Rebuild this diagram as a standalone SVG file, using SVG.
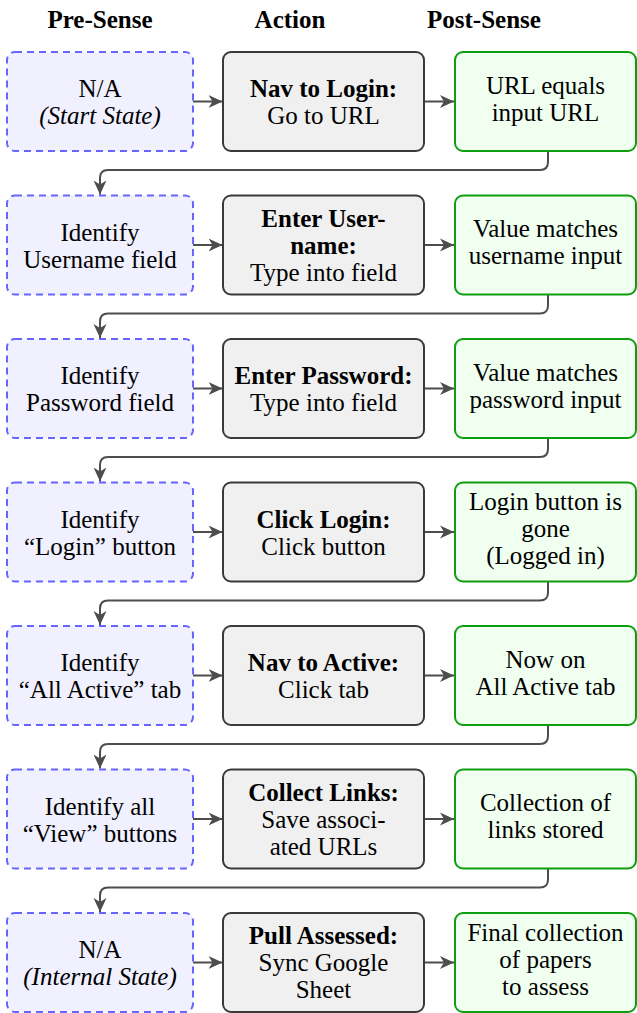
<svg xmlns="http://www.w3.org/2000/svg" width="637" height="1013" viewBox="0 0 637 1013">
<style>
text{font-family:"Liberation Serif","Times New Roman",Times,serif;font-size:25px;fill:#000;text-anchor:middle}
.h{font-weight:bold}
.b{font-weight:bold}
.i{font-style:italic}
.pre{fill:#f0f0ff;stroke:#6666ff;stroke-width:2;stroke-dasharray:7,5}
.act{fill:#f0f0f0;stroke:#3a3a3a;stroke-width:2}
.post{fill:#f0fff0;stroke:#0f9e0f;stroke-width:2}
.c{fill:none;stroke:#4d4d4d;stroke-width:2}
</style>
<defs>
<marker id="ah" markerWidth="16" markerHeight="16" refX="14" refY="8" orient="auto" markerUnits="userSpaceOnUse">
<path d="M0,1.5 L14,8 L0,14.5 L4,8 z" fill="#4d4d4d"/>
</marker>
</defs>
<g id="headers">
<text class="h" x="100" y="28">Pre-Sense</text>
<text class="h" x="290" y="28">Action</text>
<text class="h" x="484" y="28">Post-Sense</text>
</g>
<g id="connectors">
<line class="c" x1="193" y1="101.5" x2="222.5" y2="101.5" marker-end="url(#ah)"/>
<line class="c" x1="424" y1="101.5" x2="454" y2="101.5" marker-end="url(#ah)"/>
<line class="c" x1="193" y1="245" x2="222.5" y2="245" marker-end="url(#ah)"/>
<line class="c" x1="424" y1="245" x2="454" y2="245" marker-end="url(#ah)"/>
<line class="c" x1="193" y1="388.5" x2="222.5" y2="388.5" marker-end="url(#ah)"/>
<line class="c" x1="424" y1="388.5" x2="454" y2="388.5" marker-end="url(#ah)"/>
<line class="c" x1="193" y1="532" x2="222.5" y2="532" marker-end="url(#ah)"/>
<line class="c" x1="424" y1="532" x2="454" y2="532" marker-end="url(#ah)"/>
<line class="c" x1="193" y1="675.5" x2="222.5" y2="675.5" marker-end="url(#ah)"/>
<line class="c" x1="424" y1="675.5" x2="454" y2="675.5" marker-end="url(#ah)"/>
<line class="c" x1="193" y1="819" x2="222.5" y2="819" marker-end="url(#ah)"/>
<line class="c" x1="424" y1="819" x2="454" y2="819" marker-end="url(#ah)"/>
<line class="c" x1="193" y1="962.5" x2="222.5" y2="962.5" marker-end="url(#ah)"/>
<line class="c" x1="424" y1="962.5" x2="454" y2="962.5" marker-end="url(#ah)"/>
<path class="c" d="M548,151 V162 Q548,170 540,170 H108 Q100,170 100,178 V194.5" marker-end="url(#ah)"/>
<path class="c" d="M548,294.5 V305.5 Q548,313.5 540,313.5 H108 Q100,313.5 100,321.5 V338" marker-end="url(#ah)"/>
<path class="c" d="M548,438 V449 Q548,457 540,457 H108 Q100,457 100,465 V481.5" marker-end="url(#ah)"/>
<path class="c" d="M548,581.5 V592.5 Q548,600.5 540,600.5 H108 Q100,600.5 100,608.5 V625" marker-end="url(#ah)"/>
<path class="c" d="M548,725 V736 Q548,744 540,744 H108 Q100,744 100,752 V768.5" marker-end="url(#ah)"/>
<path class="c" d="M548,868.5 V879.5 Q548,887.5 540,887.5 H108 Q100,887.5 100,895.5 V912" marker-end="url(#ah)"/>
</g>
<g id="row1-pre"><rect class="pre" x="7" y="52" width="186" height="99" rx="8"/><text x="100" y="97">N/A</text><text class="i" x="100" y="124">(Start State)</text></g>
<g id="row1-act"><rect class="act" x="223" y="52" width="201" height="99" rx="8"/><text class="b" x="323.5" y="97">Nav to Login:</text><text x="323.5" y="124">Go to URL</text></g>
<g id="row1-post"><rect class="post" x="455" y="52" width="181" height="99" rx="8"/><text x="545.5" y="93.5">URL equals</text><text x="545.5" y="120.5">input URL</text></g>

<g id="row2-pre"><rect class="pre" x="7" y="195.5" width="186" height="99" rx="8"/><text x="100" y="240.5">Identify</text><text x="100" y="267.5">Username field</text></g>
<g id="row2-act"><rect class="act" x="223" y="195.5" width="201" height="99" rx="8"/><text class="b" x="323.5" y="226.5">Enter User-</text><text class="b" x="323.5" y="253.5">name:</text><text x="323.5" y="280.5">Type into field</text></g>
<g id="row2-post"><rect class="post" x="455" y="195.5" width="181" height="99" rx="8"/><text x="545.5" y="237">Value matches</text><text x="545.5" y="264">username input</text></g>

<g id="row3-pre"><rect class="pre" x="7" y="339" width="186" height="99" rx="8"/><text x="100" y="384">Identify</text><text x="100" y="411">Password field</text></g>
<g id="row3-act"><rect class="act" x="223" y="339" width="201" height="99" rx="8"/><text class="b" x="323.5" y="384">Enter Password:</text><text x="323.5" y="411">Type into field</text></g>
<g id="row3-post"><rect class="post" x="455" y="339" width="181" height="99" rx="8"/><text x="545.5" y="380.5">Value matches</text><text x="545.5" y="407.5">password input</text></g>

<g id="row4-pre"><rect class="pre" x="7" y="482.5" width="186" height="99" rx="8"/><text x="100" y="527.5">Identify</text><text x="100" y="554.5">“Login” button</text></g>
<g id="row4-act"><rect class="act" x="223" y="482.5" width="201" height="99" rx="8"/><text class="b" x="323.5" y="527.5">Click Login:</text><text x="323.5" y="554.5">Click button</text></g>
<g id="row4-post"><rect class="post" x="455" y="482.5" width="181" height="99" rx="8"/><text x="545.5" y="510">Login button is</text><text x="545.5" y="537">gone</text><text x="545.5" y="564">(Logged in)</text></g>

<g id="row5-pre"><rect class="pre" x="7" y="626" width="186" height="99" rx="8"/><text x="100" y="671">Identify</text><text x="100" y="698">“All Active” tab</text></g>
<g id="row5-act"><rect class="act" x="223" y="626" width="201" height="99" rx="8"/><text class="b" x="323.5" y="671">Nav to Active:</text><text x="323.5" y="698">Click tab</text></g>
<g id="row5-post"><rect class="post" x="455" y="626" width="181" height="99" rx="8"/><text x="545.5" y="667.5">Now on</text><text x="545.5" y="694.5">All Active tab</text></g>

<g id="row6-pre"><rect class="pre" x="7" y="769.5" width="186" height="99" rx="8"/><text x="100" y="814.5">Identify all</text><text x="100" y="841.5">“View” buttons</text></g>
<g id="row6-act"><rect class="act" x="223" y="769.5" width="201" height="99" rx="8"/><text class="b" x="323.5" y="800.5">Collect Links:</text><text x="323.5" y="827.5">Save associ-</text><text x="323.5" y="854.5">ated URLs</text></g>
<g id="row6-post"><rect class="post" x="455" y="769.5" width="181" height="99" rx="8"/><text x="545.5" y="811">Collection of</text><text x="545.5" y="838">links stored</text></g>

<g id="row7-pre"><rect class="pre" x="7" y="913" width="186" height="99" rx="8"/><text x="100" y="958">N/A</text><text class="i" x="100" y="985">(Internal State)</text></g>
<g id="row7-act"><rect class="act" x="223" y="913" width="201" height="99" rx="8"/><text class="b" x="323.5" y="944">Pull Assessed:</text><text x="323.5" y="971">Sync Google</text><text x="323.5" y="998">Sheet</text></g>
<g id="row7-post"><rect class="post" x="455" y="913" width="181" height="99" rx="8"/><text x="545.5" y="940.5">Final collection</text><text x="545.5" y="967.5">of papers</text><text x="545.5" y="994.5">to assess</text></g>
</svg>
